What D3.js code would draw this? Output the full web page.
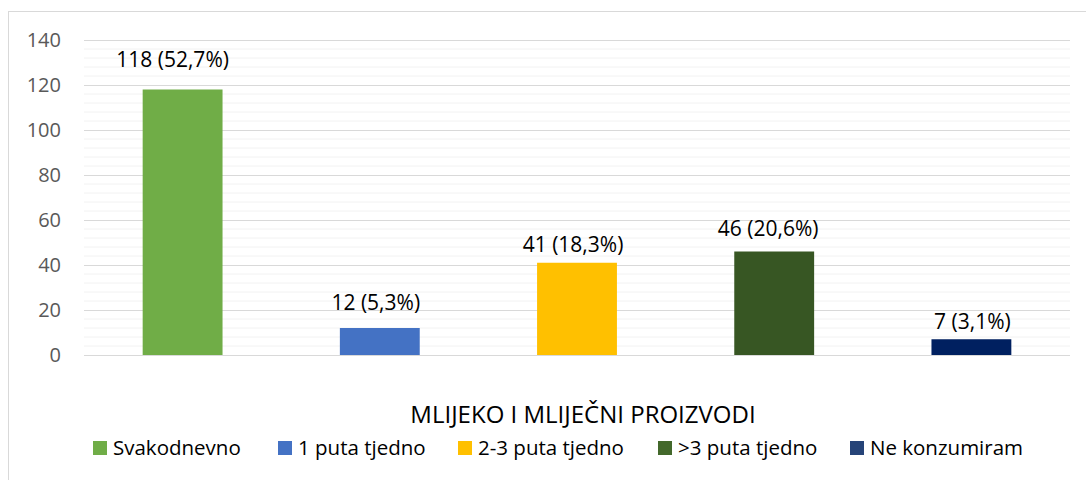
<!DOCTYPE html>
<html>
<head>
<meta charset="utf-8">
<script src="https://cdn.jsdelivr.net/npm/d3@7"></script>
<style>
  body { margin: 0; background: #fff; }
  svg { font-family: "Open Sans", sans-serif; }
</style>
</head>
<body>
<svg width="1086" height="480"></svg>
<script>
const categories = ['Svakodnevno', '1 puta tjedno', '2-3 puta tjedno', '>3 puta tjedno', 'Ne konzumiram']
const values = [118, 12, 41, 46, 7]
const labels = ['118 (52,7%)', '12 (5,3%)', '41 (18,3%)', '46 (20,6%)', '7 (3,1%)']
const colors = ['#70ad47', '#4472c4', '#ffc000', '#375623', '#002060']
const legendColors = ['#70ad47', '#4472c4', '#ffc000', '#43682b', '#264478']
const yTicks = [0, 20, 40, 60, 80, 100, 120, 140]
const title = 'MLIJEKO I MLIJEČNI PROIZVODI'

// data labels were nudged by hand in the original chart
const labelDx = [-10, -4, -4, -6, 1]
const labelGap = [22.5, 18, 11, 15.5, 10.5]

const svg = d3.select('svg')

// chart border
svg.append('rect')
  .attr('x', 8.5).attr('y', 11.5)
  .attr('width', 1090).attr('height', 480)
  .attr('fill', 'none')
  .attr('stroke', '#d9d9d9')

const x = d3.scaleBand().domain(categories).range([84, 1070]).paddingInner(0.595).paddingOuter(0.2975)
const y = d3.scaleLinear().domain([0, 140]).range([355, 40])

// minor gridlines
svg.append('g')
  .selectAll('line')
  .data(d3.range(0, 141, 4).filter(v => v % 20 !== 0))
  .join('line')
  .attr('x1', 84).attr('x2', 1070)
  .attr('y1', d => y(d)).attr('y2', d => y(d))
  .attr('stroke', '#f2f2f2')

// major gridlines + labels
const yAxis = d3.axisLeft(y).tickValues(yTicks).tickSize(-(1070 - 84)).tickPadding(23)
svg.append('g')
  .attr('transform', 'translate(84,0)')
  .call(yAxis)
  .call(g => g.select('.domain').remove())
  .call(g => g.selectAll('.tick line').attr('stroke', '#d9d9d9'))
  .call(g => g.selectAll('.tick text')
    .attr('fill', '#595959')
    .attr('font-size', '20px')
    .attr('font-family', '"Open Sans", sans-serif'))

svg.append('g')
  .selectAll('rect')
  .data(values)
  .join('rect')
  .attr('x', (d, i) => x(categories[i]))
  .attr('width', x.bandwidth())
  .attr('y', d => y(d))
  .attr('height', d => y(0) - y(d))
  .attr('fill', (d, i) => colors[i])

svg.append('g')
  .selectAll('text')
  .data(values)
  .join('text')
  .attr('x', (d, i) => x(categories[i]) + x.bandwidth() / 2 + labelDx[i])
  .attr('y', (d, i) => y(d) - labelGap[i])
  .attr('text-anchor', 'middle')
  .attr('font-size', '21px')
  .attr('fill', '#000')
  .text((d, i) => labels[i])

svg.append('text')
  .attr('x', 583).attr('y', 423)
  .attr('text-anchor', 'middle')
  .attr('font-size', '24px')
  .attr('fill', '#000')
  .text(title)

const legendX = [93, 278, 458, 658, 850]
const legend = svg.append('g')
  .selectAll('g')
  .data(categories)
  .join('g')
  .attr('transform', (d, i) => `translate(${legendX[i]},441)`)
legend.append('rect')
  .attr('width', 14).attr('height', 14)
  .attr('fill', (d, i) => legendColors[i])
legend.append('text')
  .attr('x', 20).attr('y', 14)
  .attr('font-size', '20.5px')
  .attr('fill', '#000')
  .text(d => d)
</script>
</body>
</html>
